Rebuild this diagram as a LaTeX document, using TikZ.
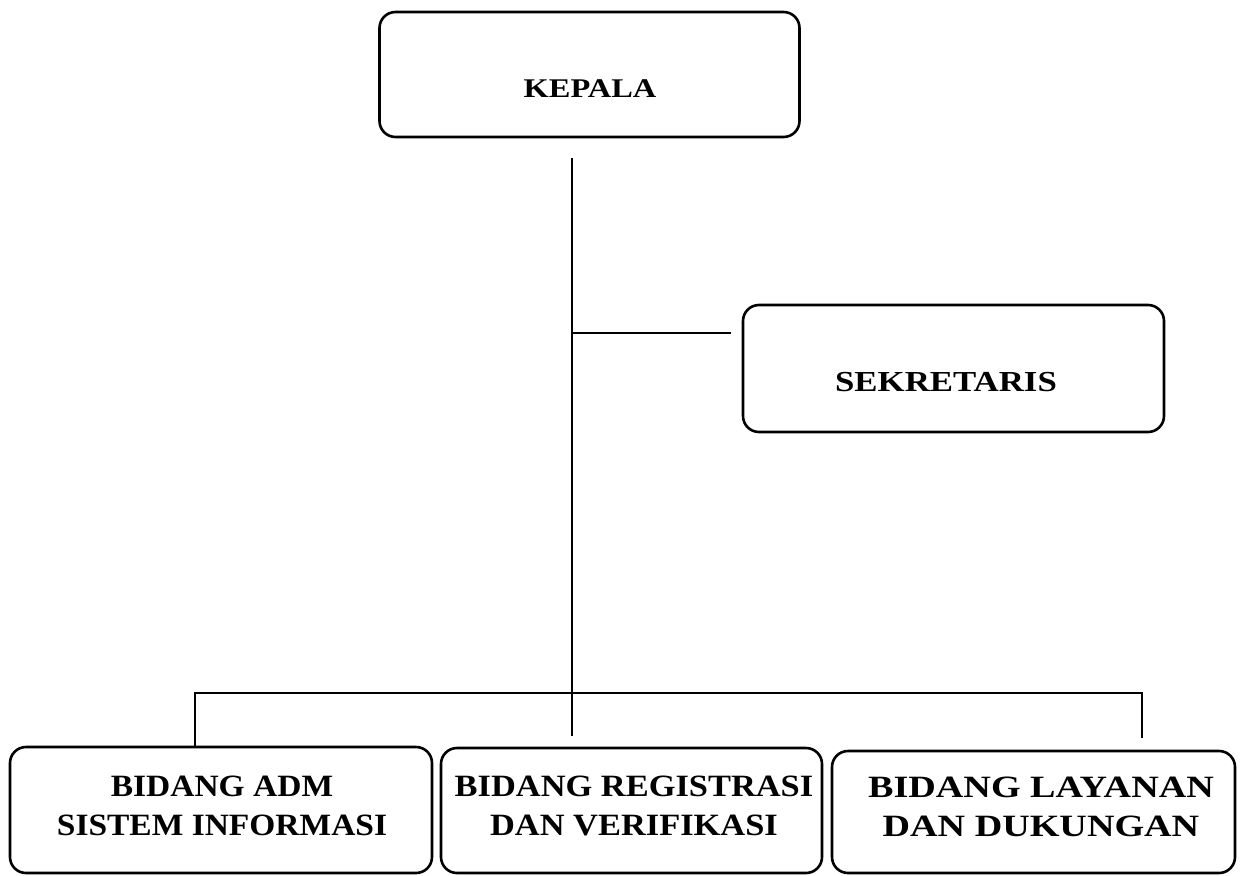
\documentclass[tikz,border=0pt]{standalone}
\usepackage{fontspec}
\setmainfont{Liberation Serif}
\newcommand{\sx}[2]{\scalebox{#1}[1]{#2}}
\begin{document}
\begin{tikzpicture}[x=1pt,y=-1pt,
  unitbox/.style={draw=black, line width=2.6pt, rounded corners=16pt, inner sep=0pt},
  unittext/.style={anchor=base, align=center, inner sep=0pt, font={\bfseries\fontsize{31}{39}\selectfont}},
  conn/.style={draw=black, line width=2pt}]
\useasboundingbox[fill=white] (0,0) rectangle (1244,875);
% boxes
\node[unitbox, minimum width=420pt, minimum height=125pt] (kepala) at (589.5,74.5) {};
\node[unitbox, minimum width=421pt, minimum height=127pt] (sek) at (953.5,368.5) {};
\node[unitbox, minimum width=422pt, minimum height=126pt] (adm) at (221,810) {};
\node[unitbox, minimum width=381pt, minimum height=125pt] (reg) at (631.5,810.5) {};
\node[unitbox, minimum width=403pt, minimum height=122pt] (lay) at (1033.5,812) {};
% texts (base = baseline of the last line)
\node[unittext, font={\bfseries\fontsize{27}{30}\selectfont}] (kepalat) at (590,97) {\sx{1.2}{KEPALA}};
\node[unittext, font={\bfseries\fontsize{29}{32}\selectfont}] (sekt) at (946,391) {\sx{1.2}{SEKRETARIS}};
\node[unittext] (admt) at (222,835) {\sx{1.08}{BIDANG ADM}\\\sx{1.08}{SISTEM INFORMASI}};
\node[unittext] (regt) at (634,835) {\sx{1.11}{BIDANG REGISTRASI}\\\sx{1.11}{DAN VERIFIKASI}};
\node[unittext] (layt) at (1041,836) {\sx{1.23}{BIDANG LAYANAN}\\\sx{1.23}{DAN DUKUNGAN}};
% connector points
\coordinate (ktop) at (572,158);
\coordinate (kmid) at (572,333);
\coordinate (kbot) at (572,736);
\coordinate (sekend) at (731,333);
\coordinate (bl) at (195,693);
\coordinate (br) at (1142,693);
\coordinate (brend) at (1142,738);
% connectors
\draw[conn] (ktop) -- (kbot);
\draw[conn] (kmid) -- (sekend);
\draw[conn] (bl |- adm.north) -- (bl) -- (br) -- (brend);
\end{tikzpicture}
\end{document}
